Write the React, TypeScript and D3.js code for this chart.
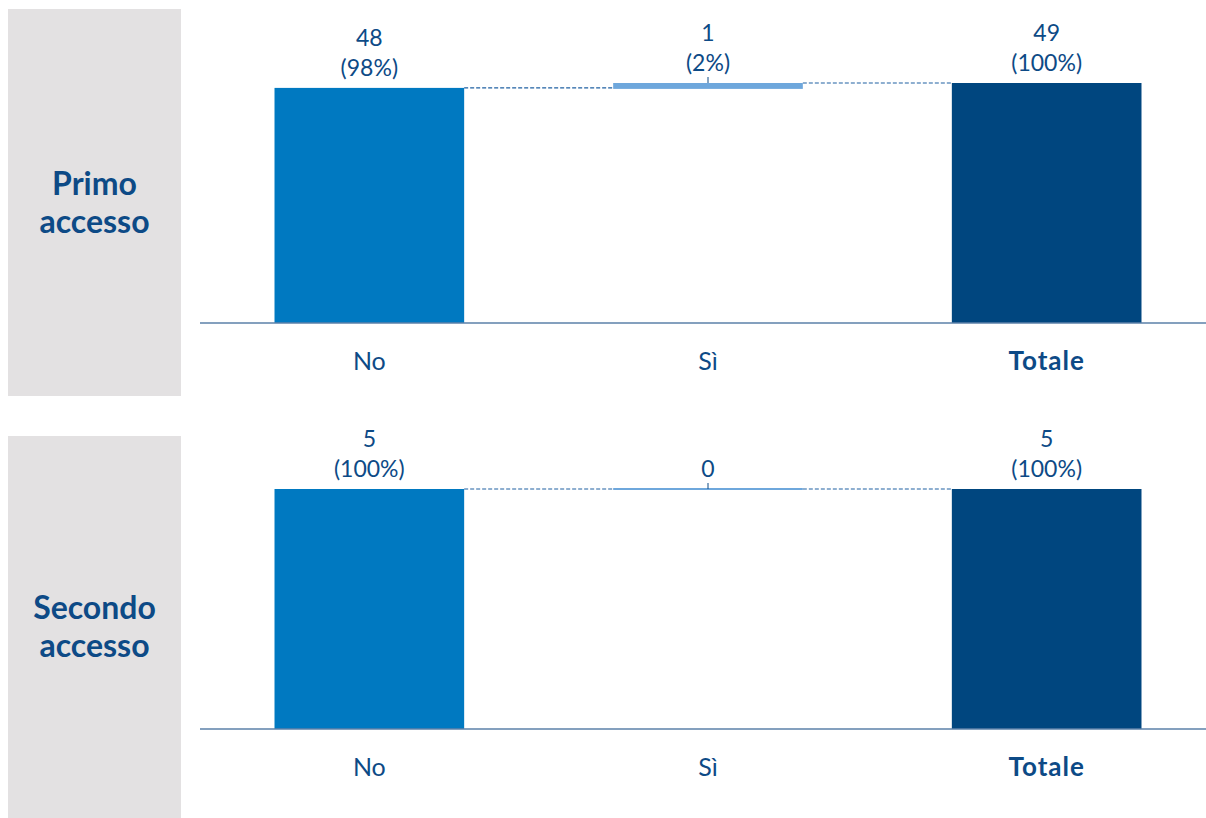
import React from "react";
import * as d3 from "d3";

// Waterfall breakdown: No + Sì = Totale, for two access groups
const categories = ["No", "Sì", "Totale"];
const panelTitles = [["Primo", "accesso"], ["Secondo", "accesso"]];
const primoValues = [48, 1];
const secondoValues = [5, 0];
const panelValues = [primoValues, secondoValues];

const W = 1206;
const H = 818;
const FONT = "Lato, 'Open Sans', sans-serif";
const TEXT = "#0d4a86";
const COLORS = { No: "#0079c1", "Sì": "#6ea7dc", Totale: "#00467f" };

// per-panel frame geometry
const panels = [
  { boxTop: 9, boxBottom: 396, axisY: 323 },
  { boxTop: 436, boxBottom: 818, axisY: 729 },
];
const BAR_H = 240;

const x = d3
  .scaleBand<string>()
  .domain(categories)
  .range([200, 1216])
  .paddingInner(0.44)
  .paddingOuter(0.22);

function Panel({ idx }: { idx: number }) {
  const p = panels[idx];
  const vals = panelValues[idx];
  const total = d3.sum(vals);
  const y = d3.scaleLinear().domain([0, total]).range([p.axisY, p.axisY - BAR_H]);
  const pct = d3.format(".0%");

  // waterfall segments: [start, end]
  const segs = [
    { cat: "No", v: vals[0], y0: 0, y1: vals[0] },
    { cat: "Sì", v: vals[1], y0: vals[0], y1: vals[0] + vals[1] },
    { cat: "Totale", v: total, y0: 0, y1: total },
  ];
  const bw = x.bandwidth();
  const cy = (p.boxTop + p.boxBottom) / 2;

  return (
    <g>
      <rect x={8} y={p.boxTop} width={173} height={p.boxBottom - p.boxTop} fill="#e3e1e2" />
      <text x={94.5} y={cy - 8} textAnchor="middle" fontFamily={FONT} fontWeight={700} fontSize={32} fill={TEXT}>
        {panelTitles[idx][0]}
      </text>
      <text x={94.5} y={cy + 30} textAnchor="middle" fontFamily={FONT} fontWeight={700} fontSize={32} fill={TEXT}>
        {panelTitles[idx][1]}
      </text>

      {/* dashed connectors between consecutive bar tops */}
      {segs.slice(0, 2).map((s, i) => {
        const next = segs[i + 1];
        const yy = y(s.y1);
        return (
          <line
            key={"c" + i}
            x1={(x(s.cat) as number) + bw}
            x2={x(next.cat) as number}
            y1={yy}
            y2={yy}
            stroke="#1f60a2"
            strokeWidth={1.1}
            strokeDasharray="4,2"
          />
        );
      })}

      {segs.map((s) => {
        const top = y(s.y1);
        const bot = y(s.y0);
        const h = Math.max(bot - top, 0);
        const isDelta = s.cat === "Sì";
        const x0 = x(s.cat) as number;
        const cx = x0 + bw / 2;
        const showPct = s.v > 0;
        return (
          <g key={s.cat}>
            {h > 0 ? (
              <rect x={x0} y={top} width={bw} height={h + (isDelta ? 1 : 0)} fill={(COLORS as any)[s.cat]} />
            ) : (
              <line x1={x0} x2={x0 + bw} y1={top} y2={top} stroke={(COLORS as any)[s.cat]} strokeWidth={2} />
            )}
            {isDelta && <line x1={cx} x2={cx} y1={top - 6} y2={top} stroke={TEXT} strokeWidth={1} />}
            {showPct ? (
              <>
                <text x={cx} y={top - 42} textAnchor="middle" fontFamily={FONT} fontSize={23} fill={TEXT}>
                  {s.v}
                </text>
                <text x={cx} y={top - 12} textAnchor="middle" fontFamily={FONT} fontSize={23} fill={TEXT}>
                  ({pct(s.v / total)})
                </text>
              </>
            ) : (
              <text x={cx} y={top - 12} textAnchor="middle" fontFamily={FONT} fontSize={23} fill={TEXT}>
                {s.v}
              </text>
            )}
            <text
              x={cx}
              y={p.axisY + 47}
              textAnchor="middle"
              fontFamily={FONT}
              fontSize={s.cat === "Totale" ? 26 : 25}
              fontWeight={s.cat === "Totale" ? 700 : 400}
              letterSpacing={s.cat === "Totale" ? 1 : 0}
              fill={TEXT}
            >
              {s.cat}
            </text>
          </g>
        );
      })}

      <line x1={200} x2={1206} y1={p.axisY} y2={p.axisY} stroke="#5b80a8" strokeWidth={1.4} />
    </g>
  );
}

export default function App() {
  return (
    <svg
      width={W}
      height={H}
      style={{ position: "fixed", left: 0, top: 0, background: "#fff" }}
    >
      <rect width={W} height={H} fill="#fff" />
      {panels.map((_, i) => (
        <Panel key={i} idx={i} />
      ))}
    </svg>
  );
}
